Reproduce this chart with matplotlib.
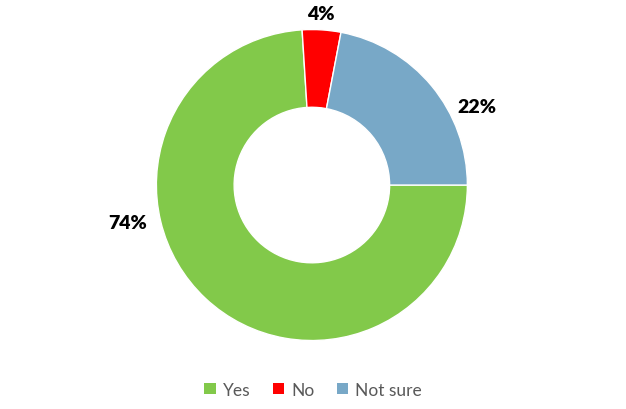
import matplotlib
matplotlib.use('Agg')
import matplotlib.pyplot as plt
from matplotlib.patches import Patch

# data
labels = ['Yes', 'No', 'Not sure']
values = [74, 4, 22]
colors = ['#82C94A', '#FF0000', '#78A8C7']
# where the percent labels sit (data coords, radius = 1)
label_pos = [(-1.183, -0.244), (0.058, 1.10), (1.061, 0.508)]

plt.rcParams['font.family'] = ['Lato', 'DejaVu Sans']

fig = plt.figure(figsize=(6.26, 4.10), dpi=100)
ax = fig.add_axes([0.2498, 0.167, 0.4968, 0.7585])

ax.pie(values, colors=colors, startangle=0, counterclock=False, radius=1,
       wedgeprops=dict(width=0.5, edgecolor='white', linewidth=1))
ax.set_xlim(-1, 1)
ax.set_ylim(-1, 1)
ax.set_aspect('equal')
ax.axis('off')

for v, (x, y) in zip(values, label_pos):
    ax.text(x, y, f'{v}%', ha='center', va='center', fontsize=14,
            fontweight='heavy', color='black', clip_on=False)

handles = [Patch(facecolor=c, label=l) for c, l in zip(colors, labels)]
leg = fig.legend(handles=handles, loc='center', bbox_to_anchor=(0.5, 0.047),
                 ncol=3, frameon=False, fontsize=12.5, handlelength=0.65,
                 handleheight=0.65, handletextpad=0.4, columnspacing=1.3)
for t in leg.get_texts():
    t.set_color('#595959')

fig.savefig('out.png', dpi=100)
